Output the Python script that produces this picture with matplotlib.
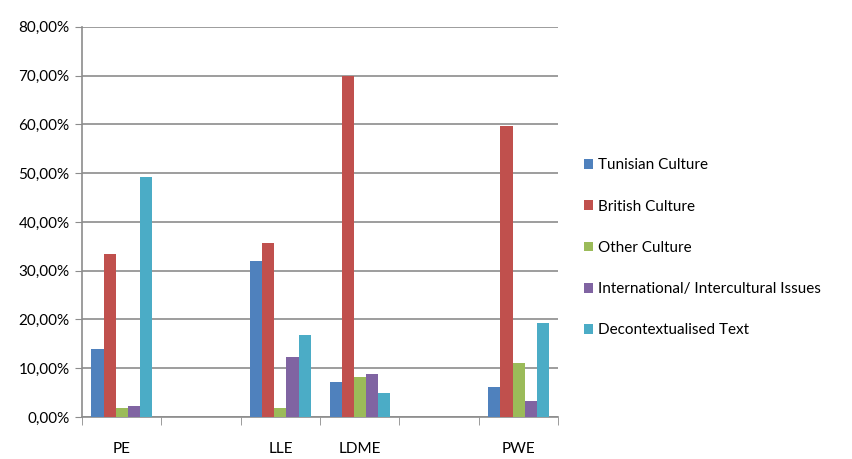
import numpy as np
import matplotlib
matplotlib.use("Agg")
import matplotlib.pyplot as plt
from matplotlib.ticker import FuncFormatter

plt.rcParams['font.family'] = ['Lato', 'DejaVu Sans']

# --- dati ---
categories = ["PE", "", "LLE", "LDME", "", "PWE"]
series = ["Tunisian Culture", "British Culture", "Other Culture",
          "International/ Intercultural Issues", "Decontextualised Text"]
tunisian = [13.9, 0, 32.0, 7.1, 0, 6.1]
british = [33.4, 0, 35.6, 70.0, 0, 59.7]
other = [1.8, 0, 1.8, 8.1, 0, 11.0]
international = [2.2, 0, 12.3, 8.8, 0, 3.3]
decontext = [49.2, 0, 16.8, 5.0, 0, 19.3]
colors = ["#4F81BD", "#C0504D", "#9BBB59", "#8064A2", "#4BACC6"]

values = [tunisian, british, other, international, decontext]

fig = plt.figure(figsize=(8.52, 4.59), dpi=100)
ax = fig.add_axes([0.0962, 0.0915, 0.559, 0.85])

x = np.arange(len(categories))
w = 0.152
for i, (vals, col, name) in enumerate(zip(values, colors, series)):
    ax.bar(x + (i - 2) * w, vals, width=w, color=col, label=name, zorder=3)

ax.set_xlim(-0.5, len(categories) - 0.5)
ax.set_ylim(0, 80)
ax.set_yticks(np.arange(0, 81, 10))
ax.yaxis.set_major_formatter(FuncFormatter(lambda v, p: f"{v:.2f}%".replace(".", ",")))
ax.grid(axis="y", color="#8c8c8c", lw=1.2, zorder=0)

ax.set_xticks(x)
ax.set_xticklabels(categories)
ax.set_xticks(np.arange(-0.5, len(categories), 1), minor=True)
ax.tick_params(axis="x", which="major", length=0, pad=18, labelsize=11)
ax.tick_params(axis="x", which="minor", length=6, color="#8c8c8c", direction="out")
ax.tick_params(axis="y", length=5, color="#8c8c8c", labelsize=11, pad=4)

for s in ["top", "right"]:
    ax.spines[s].set_visible(False)
for s in ["left", "bottom"]:
    ax.spines[s].set_color("#8c8c8c")
    ax.spines[s].set_linewidth(1.2)

fig.legend(loc="upper left", bbox_to_anchor=(0.678, 0.668), frameon=False,
           fontsize=11, handlelength=0.6, handleheight=0.6, handletextpad=0.3,
           labelspacing=1.78, borderaxespad=0)

plt.savefig("out.png", dpi=100)
